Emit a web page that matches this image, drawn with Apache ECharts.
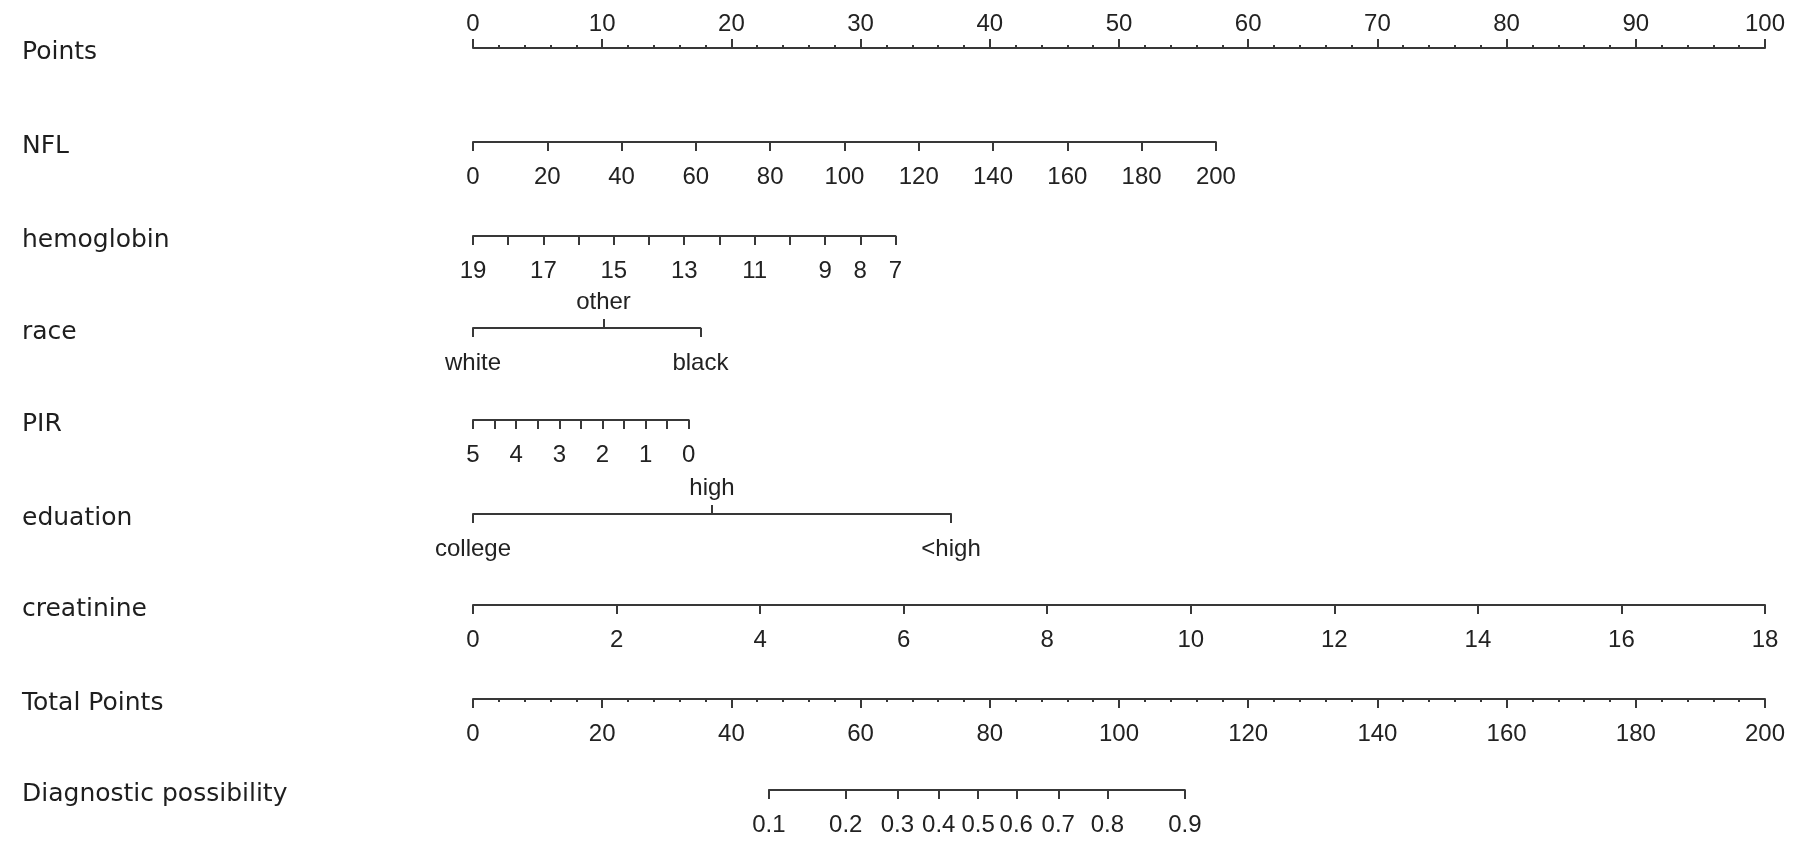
<!DOCTYPE html>
<html>
<head>
<meta charset="utf-8">
<script src="https://cdn.jsdelivr.net/npm/echarts@6/dist/echarts.min.js"></script>
<style>
html,body{margin:0;padding:0;background:#fff;}
#chart{width:1796px;height:852px;}
</style>
</head>
<body>
<div id="chart"></div>
<script>
// ---------------- data ----------------
const rowNames = ['Points','NFL','hemoglobin','race','PIR','eduation','creatinine','Total Points','Diagnostic possibility'];

const pointsTicks = [0,10,20,30,40,50,60,70,80,90,100];

const nflValues = [0,20,40,60,80,100,120,140,160,180,200];
const nflPointsRange = [0, 57.5];

const hbTicks = [19,18,17,16,15,14,13,12,11,10,9,8,7];
const hbLabels = [19,17,15,13,11,9,8,7];
const hbPointsRange = [0, 32.7];

const raceCats = ['white','other','black'];
const racePoints = [0, 10.1, 17.6];

const pirTicks = [5,4.5,4,3.5,3,2.5,2,1.5,1,0.5,0];
const pirLabels = [5,4,3,2,1,0];
const pirPointsRange = [0, 16.7];

const eduCats = ['college','high','<high'];
const eduPoints = [0, 18.5, 37.0];

const creatValues = [0,2,4,6,8,10,12,14,16,18];
const creatPointsRange = [0, 100];

const totalTicks = [0,20,40,60,80,100,120,140,160,180,200];

const diagProb = ['0.1','0.2','0.3','0.4','0.5','0.6','0.7','0.8','0.9'];
const diagTotalPoints = [45.8, 57.7, 65.7, 72.1, 78.2, 84.1, 90.6, 98.2, 110.2];

// ---------------- layout / style ----------------
const X0 = 473, X1 = 1765;
const PX = (X1 - X0) / 100;           // px per point
const rowY = [48, 142, 236, 328, 420, 514, 605, 699, 790];
const LINE = '#383838';
const TXT = '#222';
const TICK_FONT = 'Liberation Sans';
const ROW_FONT = 'DejaVu Sans';
const TICK_FS = 24;

const grids = [], xAxes = [], yAxes = [];

function addGrid(pmin, pmax, y) {
  grids.push({left: X0 + pmin * PX, width: (pmax - pmin) * PX, top: y, height: 0});
  const gi = grids.length - 1;
  yAxes.push({gridIndex: gi, type: 'value', show: false, min: 0, max: 1});
  return gi;
}
function axisBase(gi, position, extra) {
  const a = {
    gridIndex: gi, type: 'value', position: position,
    splitLine: {show: false},
    axisLine: {show: true, lineStyle: {color: LINE, width: 2}},
    axisTick: {show: true, length: 9, inside: false, lineStyle: {color: LINE, width: 2}},
    axisLabel: {show: true, color: TXT, fontFamily: TICK_FONT, fontSize: TICK_FS,
                margin: position === 'top' ? 12 : 23, hideOverlap: false,
                showMinLabel: true, showMaxLabel: true},
    axisPointer: {show: false}
  };
  for (const k in extra) {
    if (typeof extra[k] === 'object' && !Array.isArray(extra[k]) && a[k]) Object.assign(a[k], extra[k]);
    else a[k] = extra[k];
  }
  return a;
}
function lookup(vals, labels) {
  return function (v) {
    for (let i = 0; i < vals.length; i++) if (Math.abs(vals[i] - v) < 1e-6) return String(labels[i]);
    return '';
  };
}
const minor = {show: true, splitNumber: 5, length: 3, lineStyle: {color: LINE, width: 2}};

// Points
let g = addGrid(0, 100, rowY[0]);
xAxes.push(axisBase(g, 'top', {
  min: pointsTicks[0], max: pointsTicks[pointsTicks.length - 1], interval: pointsTicks[1] - pointsTicks[0],
  minorTick: minor
}));

// NFL
g = addGrid(nflPointsRange[0], nflPointsRange[1], rowY[1]);
xAxes.push(axisBase(g, 'bottom', {
  min: nflValues[0], max: nflValues[nflValues.length - 1], interval: nflValues[1] - nflValues[0]
}));

// hemoglobin
g = addGrid(hbPointsRange[0], hbPointsRange[1], rowY[2]);
xAxes.push(axisBase(g, 'bottom', {
  min: Math.min(...hbTicks), max: Math.max(...hbTicks), inverse: true,
  axisTick: {customValues: hbTicks},
  axisLabel: {customValues: hbLabels}
}));

// race
g = addGrid(racePoints[0], racePoints[racePoints.length - 1], rowY[3]);
const raceFmt = lookup(racePoints, raceCats);
xAxes.push(axisBase(g, 'bottom', {
  min: racePoints[0], max: racePoints[2],
  axisTick: {customValues: [racePoints[0], racePoints[2]]},
  axisLabel: {customValues: [racePoints[0], racePoints[2]], formatter: raceFmt}
}));
xAxes.push(axisBase(g, 'top', {
  min: racePoints[0], max: racePoints[2],
  axisLine: {show: false},
  axisTick: {customValues: [racePoints[1]]},
  axisLabel: {customValues: [racePoints[1]], formatter: raceFmt, margin: 14}
}));

// PIR
g = addGrid(pirPointsRange[0], pirPointsRange[1], rowY[4]);
xAxes.push(axisBase(g, 'bottom', {
  min: Math.min(...pirTicks), max: Math.max(...pirTicks), inverse: true,
  axisTick: {customValues: pirTicks},
  axisLabel: {customValues: pirLabels}
}));

// education
g = addGrid(eduPoints[0], eduPoints[eduPoints.length - 1], rowY[5]);
const eduFmt = lookup(eduPoints, eduCats);
xAxes.push(axisBase(g, 'bottom', {
  min: eduPoints[0], max: eduPoints[2],
  axisTick: {customValues: [eduPoints[0], eduPoints[2]]},
  axisLabel: {customValues: [eduPoints[0], eduPoints[2]], formatter: eduFmt}
}));
xAxes.push(axisBase(g, 'top', {
  min: eduPoints[0], max: eduPoints[2],
  axisLine: {show: false},
  axisTick: {customValues: [eduPoints[1]]},
  axisLabel: {customValues: [eduPoints[1]], formatter: eduFmt, margin: 14}
}));

// creatinine
g = addGrid(creatPointsRange[0], creatPointsRange[1], rowY[6]);
xAxes.push(axisBase(g, 'bottom', {
  min: creatValues[0], max: creatValues[creatValues.length - 1], interval: creatValues[1] - creatValues[0]
}));

// Total Points
g = addGrid(0, 100, rowY[7]);
xAxes.push(axisBase(g, 'bottom', {
  min: totalTicks[0], max: totalTicks[totalTicks.length - 1], interval: totalTicks[1] - totalTicks[0],
  minorTick: minor
}));

// Diagnostic possibility (positions on the Total Points scale)
const totMax = totalTicks[totalTicks.length - 1];
g = addGrid(diagTotalPoints[0] * 100 / totMax, diagTotalPoints[diagTotalPoints.length - 1] * 100 / totMax, rowY[8]);
xAxes.push(axisBase(g, 'bottom', {
  min: diagTotalPoints[0], max: diagTotalPoints[diagTotalPoints.length - 1],
  axisTick: {customValues: diagTotalPoints},
  axisLabel: {customValues: diagTotalPoints, formatter: lookup(diagTotalPoints, diagProb)}
}));

// row titles
const graphics = rowNames.map((name, i) => ({
  type: 'text', left: 22, top: rowY[i] - 8,
  style: {text: name, fill: '#1e1e1e', font: '25px "' + ROW_FONT + '"', textVerticalAlign: 'top'}
}));

const chart = echarts.init(document.getElementById('chart'));
chart.setOption({
  animation: false,
  backgroundColor: '#fff',
  grid: grids,
  xAxis: xAxes,
  yAxis: yAxes,
  graphic: graphics,
  series: []
});
</script>
</body>
</html>
